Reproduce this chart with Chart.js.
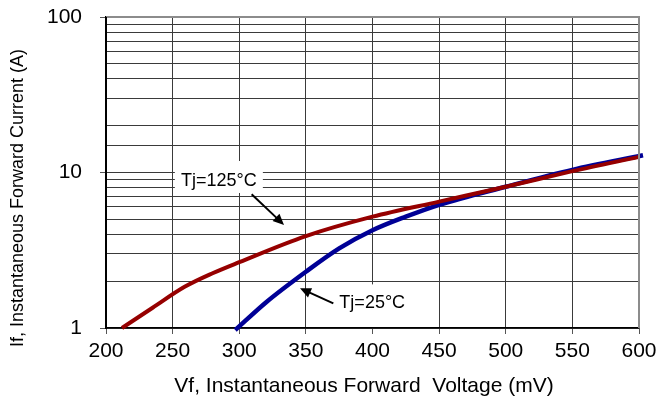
<!DOCTYPE html>
<html>
<head>
<meta charset="utf-8">
<script src="https://cdn.jsdelivr.net/npm/chart.js@4.4.1/dist/chart.umd.min.js"></script>
<style>
html,body{margin:0;padding:0;background:#fff;}
#wrap{width:658px;height:400px;position:relative;}
</style>
</head>
<body>
<div id="wrap"><canvas id="c" width="658" height="400"></canvas></div>
<script>
// Data
const xTicks = [200, 250, 300, 350, 400, 450, 500, 550, 600];
const yTickLabels = [1, 10, 100];
const tj125_vf = [212, 235, 259, 280, 300, 350, 400, 450, 500, 550, 600];
const tj125_if = [1.0, 1.35, 1.84, 2.25, 2.65, 3.9, 5.2, 6.5, 8.1, 10.2, 12.6];
const tj25_vf = [297, 320, 350, 375, 400, 425, 450, 500, 550, 603];
const tj25_if = [0.97, 1.46, 2.3, 3.25, 4.25, 5.2, 6.2, 8.1, 10.4, 12.9];
const label125 = 'Tj=125°C';
const label25 = 'Tj=25°C';
const xTitle = 'Vf, Instantaneous Forward  Voltage (mV)';
const yTitle = 'If, Instantaneous Forward Current (A)';

const FONT = '"Liberation Sans", Arial, sans-serif';
const pts = (xs, ys) => xs.map((x, i) => ({x: x, y: ys[i]}));

function arrow(ctx, x1, y1, x2, y2) {
  const a = Math.atan2(y2 - y1, x2 - x1);
  const L = 11, W = 5;
  ctx.strokeStyle = '#000'; ctx.fillStyle = '#000'; ctx.lineWidth = 2;
  ctx.beginPath();
  ctx.moveTo(x1, y1);
  ctx.lineTo(x2 - L * Math.cos(a) * 0.8, y2 - L * Math.sin(a) * 0.8);
  ctx.stroke();
  ctx.beginPath();
  ctx.moveTo(x2, y2);
  ctx.lineTo(x2 - L * Math.cos(a) + W * Math.sin(a), y2 - L * Math.sin(a) - W * Math.cos(a));
  ctx.lineTo(x2 - L * Math.cos(a) - W * Math.sin(a), y2 - L * Math.sin(a) + W * Math.cos(a));
  ctx.closePath();
  ctx.fill();
}

const decor = {
  id: 'decor',
  beforeDatasetsDraw(chart) {
    const ctx = chart.ctx, xs = chart.scales.x, ys = chart.scales.y;
    const a = chart.chartArea;
    ctx.save();
    ctx.fillStyle = '#fff';
    // Tj=125 box
    let cx = xs.getPixelForValue(284.7), cy = ys.getPixelForValue(8.82);
    ctx.fillRect(cx - 44, cy - 20, 88, 32);
    // Tj=25 box
    cx = xs.getPixelForValue(399.8); cy = ys.getPixelForValue(1.44);
    ctx.fillRect(cx - 37, cy - 19, 75, Math.min(43, a.bottom - 1 - (cy - 19)));
    ctx.restore();
  },
  afterDraw(chart) {
    const ctx = chart.ctx, xs = chart.scales.x, ys = chart.scales.y;
    const a = chart.chartArea;
    ctx.save();
    // top and right frame lines
    ctx.strokeStyle = '#8c8c8c'; ctx.lineWidth = 2;
    ctx.beginPath();
    ctx.moveTo(a.left, a.top); ctx.lineTo(a.right, a.top); ctx.lineTo(a.right, a.bottom);
    ctx.stroke();
    // left axis line
    ctx.strokeStyle = '#000'; ctx.lineWidth = 2;
    ctx.beginPath(); ctx.moveTo(a.left, a.top); ctx.lineTo(a.left, a.bottom); ctx.stroke();
    // labels
    ctx.fillStyle = '#000';
    ctx.textAlign = 'center'; ctx.textBaseline = 'middle';
    ctx.font = '18px ' + FONT;
    ctx.fillText(label125, xs.getPixelForValue(284.7), ys.getPixelForValue(8.82));
    ctx.fillText(label25, xs.getPixelForValue(399.8), ys.getPixelForValue(1.44));
    // arrows
    arrow(ctx, xs.getPixelForValue(309.3), ys.getPixelForValue(7.24), xs.getPixelForValue(333.6), ys.getPixelForValue(4.6));
    arrow(ctx, xs.getPixelForValue(370.6), ys.getPixelForValue(1.44), xs.getPixelForValue(345.6), ys.getPixelForValue(1.80));
    // axis titles
    ctx.font = '21px ' + FONT;
    ctx.fillText(xTitle, 364, 386);
    ctx.save();
    ctx.translate(18, 198);
    ctx.rotate(-Math.PI / 2);
    ctx.font = '18px ' + FONT;
    ctx.fillText(yTitle, 0, 0);
    ctx.restore();
    ctx.restore();
  }
};

const isMajor = v => yTickLabels.includes(v);

new Chart(document.getElementById('c'), {
  type: 'line',
  data: {
    datasets: [
      {
        label: label125,
        data: pts(tj125_vf, tj125_if),
        borderColor: '#960000',
        borderWidth: 4,
        pointRadius: 0,
        cubicInterpolationMode: 'monotone',
        fill: false,
        clip: 3
      },
      {
        label: label25,
        data: pts(tj25_vf, tj25_if),
        borderColor: '#000096',
        borderWidth: 4.5,
        pointRadius: 0,
        cubicInterpolationMode: 'monotone',
        fill: false,
        clip: 5
      }
    ]
  },
  options: {
    responsive: false,
    animation: false,
    events: [],
    layout: { padding: { top: 17, right: 19, left: 0, bottom: 0 } },
    plugins: { legend: { display: false }, tooltip: { enabled: false }, title: { display: false } },
    scales: {
      x: {
        type: 'linear',
        min: 200, max: 600,
        afterBuildTicks(scale) { scale.ticks = xTicks.map(v => ({value: v})); },
        afterFit(scale) { scale.height = 72; scale.paddingLeft = 0; scale.paddingRight = 0; },
        ticks: {
          color: '#000',
          font: { family: FONT, size: 21 },
          padding: 5,
          maxRotation: 0,
          autoSkip: false
        },
        grid: {
          color: ctx => (ctx.tick && ctx.tick.value === 600) ? 'rgba(0,0,0,0)' : '#3a3a3a',
          lineWidth: 1,
          tickLength: 6,
          tickColor: '#555'
        },
        border: { display: true, color: '#000', width: 1.5 }
      },
      y: {
        type: 'logarithmic',
        min: 1, max: 100,
        afterFit(scale) { scale.width = 106; scale.paddingTop = 0; scale.paddingBottom = 0; },
        ticks: {
          color: '#000',
          font: { family: FONT, size: 21 },
          padding: 18,
          autoSkip: false,
          callback: v => isMajor(v) ? String(v) : ''
        },
        grid: {
          color: ctx => (ctx.tick && ctx.tick.value === 100) ? 'rgba(0,0,0,0)' : '#3a3a3a',
          lineWidth: 1,
          tickLength: 6,
          tickColor: ctx => (ctx.tick && isMajor(ctx.tick.value)) ? '#555' : 'rgba(0,0,0,0)'
        },
        border: { display: true, color: '#000', width: 2 }
      }
    }
  },
  plugins: [decor]
});
</script>
</body>
</html>
